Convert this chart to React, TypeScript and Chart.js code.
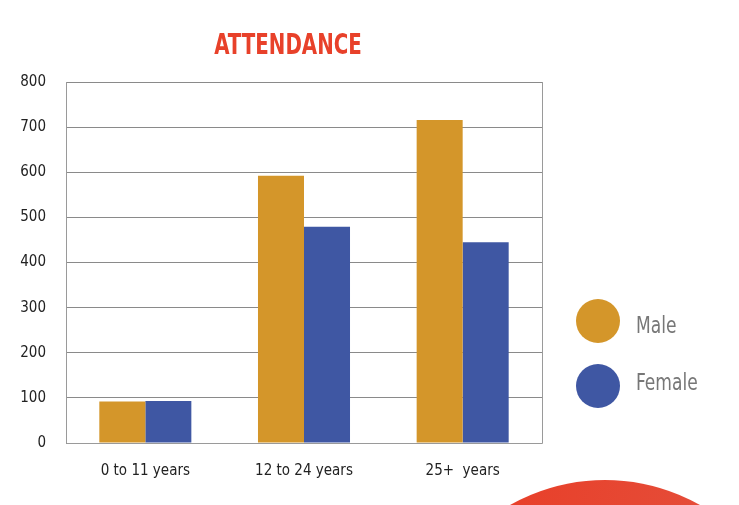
import React, { useEffect, useRef } from "react";
import { Chart, registerables } from "chart.js";

Chart.register(...registerables);

const categories = ["0 to 11 years", "12 to 24 years", "25+  years"];
const maleValues = [92, 592, 716];
const femaleValues = [93, 479, 445];
const seriesLabels = ["Male", "Female"];
const seriesColors = ["#d4962a", "#3f57a3"];
const yTicks = [0, 100, 200, 300, 400, 500, 600, 700, 800];
const titleText = "ATTENDANCE";

const FONT = "'Liberation Sans Narrow', 'DejaVu Sans Condensed', 'Roboto Condensed', sans-serif";

const decorPlugin = {
  id: "decor",
  beforeDraw(chart: any) {
    const { ctx } = chart;
    ctx.save();
    ctx.fillStyle = "#ffffff";
    ctx.fillRect(0, 0, chart.width, chart.height);
    ctx.restore();
  },
  afterDatasetsDraw(chart: any) {
    const { ctx, chartArea } = chart;
    ctx.save();
    ctx.strokeStyle = "#9a9a9a";
    ctx.lineWidth = 1;
    ctx.beginPath();
    ctx.moveTo(chartArea.left + 0.5, chartArea.top);
    ctx.lineTo(chartArea.left + 0.5, chartArea.bottom + 0.5);
    ctx.lineTo(chartArea.right + 0.5, chartArea.bottom + 0.5);
    ctx.lineTo(chartArea.right + 0.5, chartArea.top);
    ctx.stroke();
    ctx.restore();
  },
  afterDraw(chart: any) {
    const { ctx, chartArea } = chart;
    ctx.save();
    // title
    ctx.fillStyle = "#e8412a";
    ctx.font = `bold 22px ${FONT}`;
    ctx.textAlign = "center";
    ctx.textBaseline = "middle";
    ctx.save();
    ctx.translate(288, 47);
    ctx.scale(1, 1.3);
    ctx.fillText(titleText, 0, 0);
    ctx.restore();
    // legend
    const lx = chartArea.right + 56;
    const circleY = [321, 386];
    const textY = [327, 384];
    chart.data.datasets.forEach((ds: any, i: number) => {
      ctx.beginPath();
      ctx.fillStyle = ds.backgroundColor;
      ctx.arc(lx, circleY[i], 22, 0, Math.PI * 2);
      ctx.fill();
      ctx.fillStyle = "#777777";
      ctx.font = `19px ${FONT}`;
      ctx.textAlign = "left";
      ctx.textBaseline = "middle";
      ctx.save();
      ctx.translate(lx + 38, textY[i]);
      ctx.scale(1, 1.2);
      ctx.fillText(ds.label, 0, 0);
      ctx.restore();
    });
    // decorative circle
    const grad = ctx.createLinearGradient(510, 480, 700, 505);
    grad.addColorStop(0, "#e8402a");
    grad.addColorStop(1, "#e54c38");
    ctx.fillStyle = grad;
    ctx.beginPath();
    ctx.arc(605, 673, 193, 0, Math.PI * 2);
    ctx.fill();
    ctx.restore();
  },
};

export default function App() {
  const ref = useRef<HTMLCanvasElement>(null);
  useEffect(() => {
    const chart = new Chart(ref.current!, {
      type: "bar",
      data: {
        labels: categories,
        datasets: [
          { label: seriesLabels[0], data: maleValues, backgroundColor: seriesColors[0] },
          { label: seriesLabels[1], data: femaleValues, backgroundColor: seriesColors[1] },
        ],
      },
      options: {
        responsive: false,
        animation: false,
        layout: { padding: { top: 82, right: 197, left: 0, bottom: 0 } },
        datasets: { bar: { categoryPercentage: 0.58, barPercentage: 1 } },
        plugins: { legend: { display: false }, title: { display: false }, tooltip: { enabled: false } },
        scales: {
          x: {
            grid: { display: false, drawTicks: false },
            border: { display: false },
            ticks: { color: "#222", font: { family: FONT, size: 15 }, padding: 19 },
            afterFit: (s: any) => { s.height = 62; },
          },
          y: {
            min: 0,
            max: 800,
            afterBuildTicks: (s: any) => { s.ticks = yTicks.map((v) => ({ value: v })); },
            grid: { color: "#8a8a8a", drawTicks: false, lineWidth: 1 },
            border: { display: false },
            ticks: { color: "#222", font: { family: FONT, size: 15 }, padding: 20 },
            afterFit: (s: any) => { s.width = 66; },
          },
        },
      },
      plugins: [decorPlugin],
    });
    return () => chart.destroy();
  }, []);
  return (
    <div style={{ position: "absolute", left: 0, top: 0, width: 739, height: 505, overflow: "hidden" }}>
      <canvas ref={ref} width={739} height={505} style={{ display: "block" }} />
    </div>
  );
}
